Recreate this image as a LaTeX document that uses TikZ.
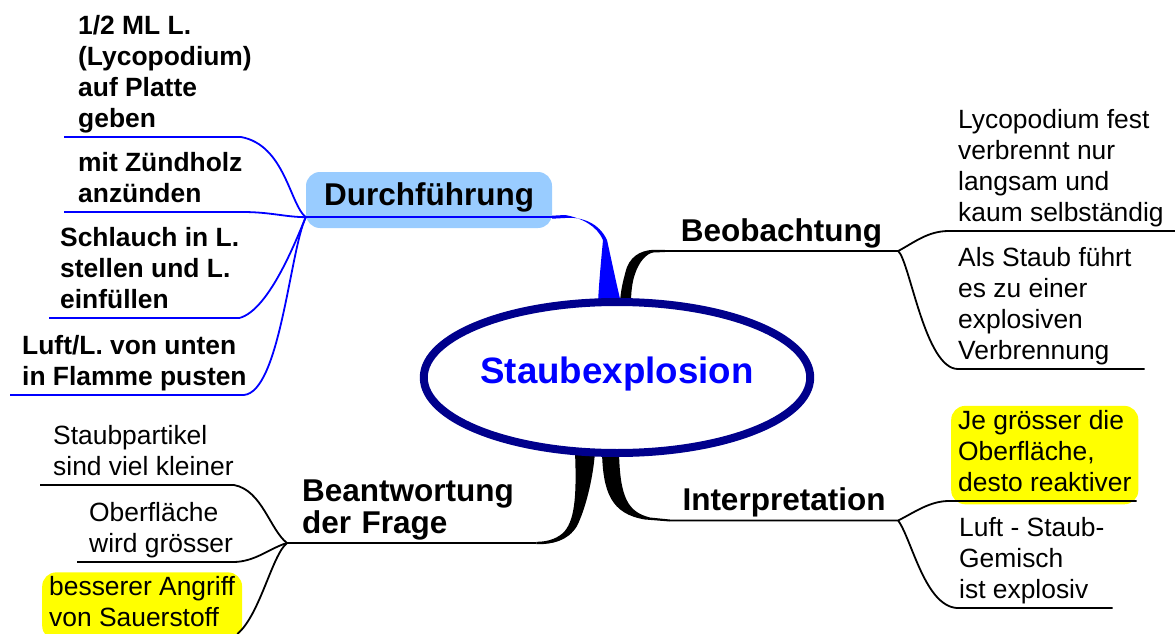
\documentclass[tikz,border=0pt]{standalone}
\usepackage{fontspec}
\setmainfont{Liberation Sans}
\usetikzlibrary{shapes.geometric}
\definecolor{navy}{RGB}{0,0,140}
\definecolor{pale}{RGB}{153,204,255}
\definecolor{hi}{RGB}{255,255,0}
\definecolor{linkblue}{RGB}{0,0,255}

\begin{document}
\begin{tikzpicture}[x=1pt, y=-1pt]
  \tikzstyle{rootnode}=[ellipse, draw=navy, line width=8pt, fill=white, minimum width=384pt, minimum height=151pt, inner sep=0pt, text=linkblue, font=\fontsize{36.7}{40}\selectfont\bfseries, text depth=15pt]
  \tikzstyle{durchbox}=[fill=pale, rounded corners=14pt, minimum width=246pt, minimum height=56pt, inner sep=0pt, text depth=12pt, font=\fontsize{31.5}{32}\selectfont\bfseries]
  \tikzstyle{branchlab}=[inner sep=0pt, font=\fontsize{31.5}{32}\selectfont\bfseries]
  \tikzstyle{leaftxt}=[inner sep=0pt, align=left, anchor=south west, font=\fontsize{26.4}{31}\selectfont]
  \tikzstyle{boldleaf}=[leaftxt, font=\fontsize{26.4}{31}\selectfont\bfseries]
  \tikzstyle{hinote}=[leaftxt, fill=hi, rounded corners=14pt, inner xsep=7pt, inner ysep=4pt]
  \tikzstyle{conn}=[draw, line width=1.8pt]
  \tikzstyle{bconn}=[conn, linkblue]

  \useasboundingbox (0,0) rectangle (1176,634);
  \clip (0,0) rectangle (1176,634);

  % hauptaeste
  \node[durchbox] (durch) at (429,200) {Durchführung};
  \node[branchlab, minimum width=233pt, anchor=south] (beob) at (781.5,251) {Beobachtung\strut};
  \node[branchlab, minimum width=228pt, anchor=south] (interp) at (784,520.5) {Interpretation\strut};
  \node[branchlab, text width=219pt, inner xsep=15pt, align=left, anchor=south west] (antw) at (287,543) {Beantwortung\\der Frage\strut};
  \coordinate (dhub) at ([yshift=11pt]durch.south west);
  \coordinate (dend) at ([yshift=11pt]durch.south east);

  % durchfuehrung
  \node[boldleaf] (halb) at (78,137) {1/2 ML L.\\(Lycopodium)\\auf Platte\\geben\strut};
  \node[boldleaf] (zuend) at (78,212) {mit Zündholz\\anzünden\strut};
  \node[boldleaf] (schlauch) at (60,318) {Schlauch in L.\\stellen und L.\\einfüllen\strut};
  \node[boldleaf] (luft) at (22,395) {Luft/L. von unten\\in Flamme pusten\strut};

  % beobachtung
  \node[leaftxt] (lyco) at (958,231) {Lycopodium fest\\verbrennt nur\\langsam und\\kaum selbständig\strut};
  \node[leaftxt] (alsstaub) at (958,369) {Als Staub führt\\es zu einer\\explosiven\\Verbrennung\strut};

  % interpretation
  \node[hinote] (jegr) at (951,504.5) {Je grösser die\\Oberfläche,\\desto reaktiver\strut};
  \node[leaftxt] (gemisch) at (959,608) {Luft - Staub-\\Gemisch\\ist explosiv\strut};

  % beantwortung
  \node[leaftxt] (staubp) at (53,485) {Staubpartikel\\sind viel kleiner\strut};
  \node[leaftxt] (ober) at (89,562) {Oberfläche\\wird grösser\strut};
  \node[hinote] (besser) at (42,640) {besserer Angriff\\von Sauerstoff\strut};

  % blaue verbindungen
  \draw[bconn] (dhub) -- (dend);
  \draw[bconn] (dhub) .. controls (290,205) and (285,145) .. ([xshift=-11pt]halb.south east) -- ([xshift=-14pt]halb.south west);
  \draw[bconn] (dhub) .. controls (285,217) and (270,212) .. (zuend.south east) -- ([xshift=-14pt]zuend.south west);
  \draw[bconn] (dhub) .. controls (298,235) and (270,310) .. (schlauch.south east) -- ([xshift=-11pt]schlauch.south west);
  \draw[bconn] (dhub) .. controls (290,250) and (280,392) .. ([xshift=-3pt]luft.south east) -- ([xshift=-12pt]luft.south west);

  % schwarze verbindungen
  \draw[conn] (beob.south west) -- (beob.south east) .. controls (915,242) and (928,231) .. ([xshift=-9pt]lyco.south west) -- ([xshift=11pt]lyco.south east);
  \draw[conn] (beob.south east) .. controls (910,262) and (925,369) .. (alsstaub.south west) -- ([xshift=13pt]alsstaub.south east);
  \draw[conn] (interp.south west) -- (interp.south east) .. controls (915,512) and (930,501) .. ([xshift=-2pt, yshift=3.5pt]jegr.south west) -- ([xshift=-2pt, yshift=3.5pt]jegr.south east);
  \draw[conn] (interp.south east) .. controls (912,540) and (925,606) .. ([xshift=-2pt]gemisch.south west) -- ([xshift=8pt]gemisch.south east);
  \draw[conn] (antw.south east) -- (antw.south west) .. controls (270,530) and (262,490) .. (staubp.south east) -- ([xshift=-13pt]staubp.south west);
  \draw[conn] (antw.south west) .. controls (270,548) and (255,562) .. (ober.south east) -- ([xshift=-12pt]ober.south west);
  \draw[conn] (antw.south west) .. controls (272,555) and (260,615) .. ([xshift=-5pt, yshift=6pt]besser.south east);

  % aeste am zentrum
  \fill[linkblue] ([yshift=1.5pt]dend) -- (565,215) .. controls (582,218) and (597,226) .. (603,240) .. controls (601,262) and (599,282) .. (598,303) -- (621,303) .. controls (616,282) and (611,258) .. (607,240) .. controls (599,223) and (582,216.5) .. (565,218) -- ([yshift=-1.5pt]dend) -- cycle;
  \fill ([yshift=1.2pt]beob.south west) -- (653,249.8) .. controls (640,250.5) and (629,257) .. (625.5,272) .. controls (622.5,283) and (620.5,292) .. (620,303) -- (631,303) .. controls (631,291) and (632.5,281) .. (635,274) .. controls (639,262) and (646,253.5) .. (654,252.3) -- ([yshift=-1.2pt]beob.south west) -- cycle;
  \fill (602,452) .. controls (603,492) and (611,514) .. (645,519.5) -- ([yshift=-1pt]interp.south west) -- ([yshift=1pt]interp.south west) -- (650,517.5) .. controls (628,512) and (620,498) .. (619,452) -- cycle;
  \fill (575,452) .. controls (577,500) and (574,522) .. (563,533) .. controls (555,540) and (545,541.8) .. ([yshift=1.2pt]antw.south east) -- ([yshift=-1.2pt]antw.south east) .. controls (552,544.5) and (568,541) .. (577,526) .. controls (585,510) and (593,480) .. (595,452) -- cycle;

  % zentrum
  \node[rootnode] (root) at (617,377.5) {Staubexplosion};
\end{tikzpicture}
\end{document}
